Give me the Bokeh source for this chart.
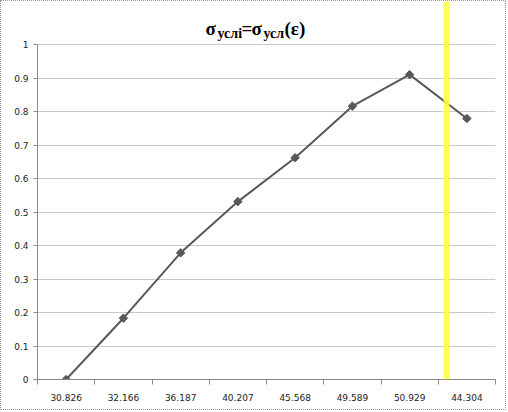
import math
from bokeh.plotting import figure
from bokeh.models import FixedTicker, BoxAnnotation, Label, Range1d
from bokeh.embed import file_html
from bokeh.resources import INLINE

categories = ["30.826", "32.166", "36.187", "40.207", "45.568", "49.589", "50.929", "44.304"]
values = [0.0, 0.183, 0.378, 0.531, 0.662, 0.816, 0.910, 0.779]
y_ticks = [0, 0.1, 0.2, 0.3, 0.4, 0.5, 0.6, 0.7, 0.8, 0.9, 1.0]

W, H = 506, 410          # plus a 1px dotted border on every side
L, R, B = 36, 12, 32
plot_top = 43                      # canvas y of the value 1 gridline
frame_h = H - B                    # frame spans the full height above the x axis
px_per_unit = frame_h - plot_top   # pixels per 1.0 of value
y_top = 1 + plot_top / px_per_unit

p = figure(width=W, height=H, output_backend="svg", toolbar_location=None,
           x_range=Range1d(0, len(categories)), y_range=Range1d(0, y_top),
           min_border_left=L, min_border_right=R, min_border_top=0, min_border_bottom=B)
p.outline_line_color = None
p.background_fill_color = "white"
p.border_fill_color = "white"
p.styles = {"border": "1px dotted #9a9a9a"}

xs = [i + 0.5 for i in range(len(categories))]
p.line(xs, values, line_color="#595959", line_width=2)
p.scatter(xs, values, marker="square", angle=math.pi / 4, size=6,
          fill_color="#595959", line_color="#595959")

# x axis
p.xaxis.ticker = FixedTicker(ticks=xs, minor_ticks=list(range(len(categories) + 1)))
p.xaxis.major_label_overrides = {x: c for x, c in zip(xs, categories)}
p.xaxis.major_tick_line_color = None
p.xaxis.minor_tick_line_color = "#888888"
p.xaxis.minor_tick_in = 0
p.xaxis.minor_tick_out = 5
p.xaxis.axis_line_color = "#888888"
p.xaxis.major_label_standoff = 8
p.xaxis.major_label_text_font = "DejaVu Sans"
p.xaxis.major_label_text_font_size = "9px"
p.xaxis.major_label_text_color = "#222222"
p.xgrid.grid_line_color = None

# y axis
p.yaxis.ticker = FixedTicker(ticks=y_ticks, minor_ticks=[])
p.yaxis.bounds = (0, 1)
p.yaxis.major_label_overrides = {0: "0", 1: "1", 1.0: "1"}
p.yaxis.major_tick_line_color = "#888888"
p.yaxis.major_tick_in = 0
p.yaxis.major_tick_out = 4
p.yaxis.minor_tick_line_color = None
p.yaxis.axis_line_color = "#888888"
p.yaxis.major_label_standoff = 5
p.yaxis.major_label_text_font = "DejaVu Sans"
p.yaxis.major_label_text_font_size = "9px"
p.yaxis.major_label_text_color = "#222222"
p.ygrid.ticker = FixedTicker(ticks=y_ticks)
p.ygrid.grid_line_color = "#c8c8c8"

# yellow highlight band (full frame height)
p.add_layout(BoxAnnotation(left=442 - L, right=448 - L,
                           left_units="screen", right_units="screen",
                           fill_color="#ffff40", fill_alpha=0.85, line_color=None, level="overlay"))

# title pieces (screen units relative to the frame's bottom-left)
serif = "serif"
pieces = [
    ("σ", 204, 27, "19px"),
    ("услi", 216, 32, "14px"),
    ("=", 240, 27, "19px"),
    ("σ", 250, 27, "19px"),
    ("усл", 262, 32, "14px"),
    ("(ε)", 283, 27, "19px"),
]
for txt, x, yb, fs in pieces:
    p.add_layout(Label(x=x - L, y=frame_h - yb, x_units="screen", y_units="screen", text=txt,
                       text_font=serif, text_font_style="bold", text_font_size=fs,
                       text_baseline="alphabetic", text_align="left", text_color="black"))

open("out.html", "w").write(file_html(p, INLINE))
